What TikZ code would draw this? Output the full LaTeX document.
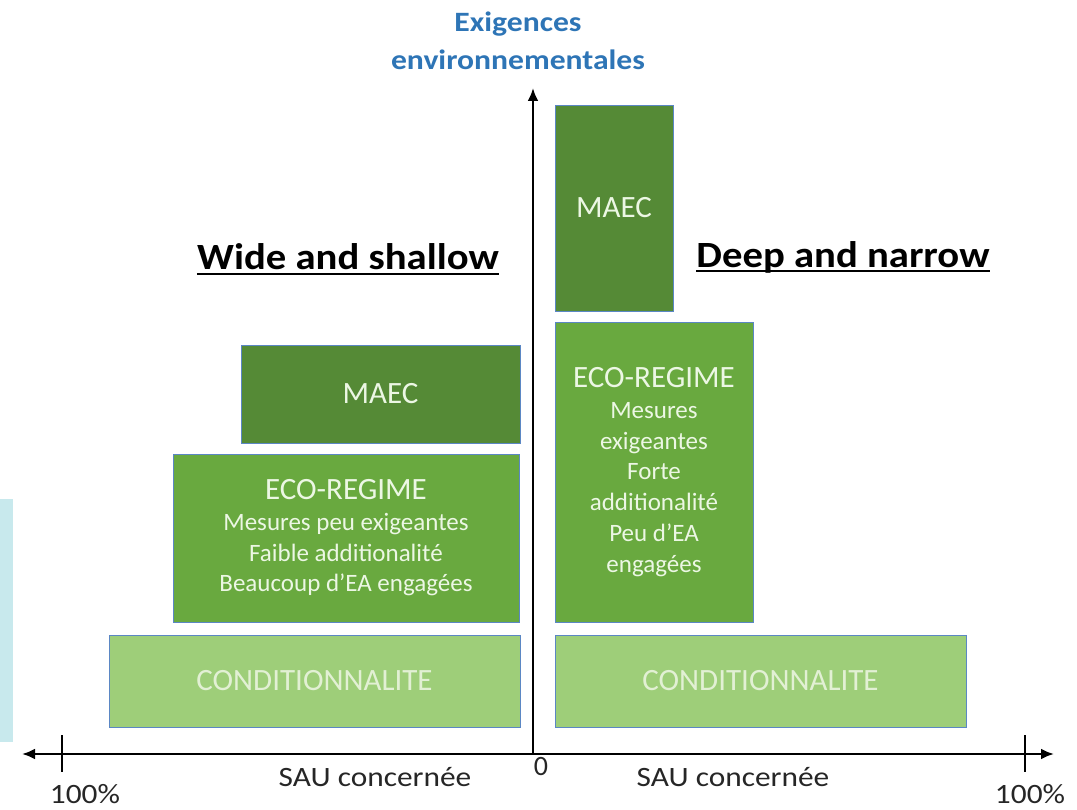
\documentclass[tikz,border=0pt]{standalone}
\usepackage{fontspec}
\setmainfont{Carlito}
\usetikzlibrary{arrows.meta}
\definecolor{maec}{HTML}{558A36}
\definecolor{eco}{HTML}{69A93F}
\definecolor{cond}{HTML}{9ECE79}
\definecolor{boxline}{HTML}{5B87C4}
\definecolor{titleblue}{HTML}{2E75B6}
\definecolor{cyanbg}{HTML}{C8E9ED}
\definecolor{boxtext}{HTML}{ECF7E4}
\definecolor{condtext}{HTML}{E2F0D4}
\newcommand{\wide}[2][1.12]{\scalebox{#1}[1]{#2}}
\begin{document}
\begin{tikzpicture}[x=1pt,y=-1pt,
  box/.style={draw=boxline, line width=0.8pt, inner sep=0pt, align=center, text=boxtext},
  maecbox/.style={box, fill=maec, font=\fontsize{31}{31}\selectfont},
  ecobox/.style={box, fill=eco, font=\fontsize{25}{30.7}\selectfont},
  condbox/.style={box, fill=cond, text=condtext, font=\fontsize{31}{31}\selectfont},
  axis/.style={line width=2.6pt, black},
  tip/.style={-{Latex[length=13pt,width=11pt]}},
  tick/.style={line width=2pt, black},
  axlabel/.style={font=\fontsize{28}{28}\selectfont, text=black!85, inner sep=0pt},
  heading/.style={font=\bfseries\fontsize{37}{37}\selectfont, inner sep=0pt},
  underl/.style={line width=2.2pt, black}
]
\useasboundingbox (0,0) rectangle (1077,810);
\fill[cyanbg] (0,499) rectangle (13,742);

% axis title
\node[font=\bfseries\fontsize{28}{38}\selectfont, text=titleblue, align=center, inner sep=0pt] (ytitle) at (518,41) {\wide[1.13]{Exigences}\\\wide[1.13]{environnementales}};

% left side boxes
\node[maecbox, minimum width=279pt, minimum height=98pt] (lmaec) at (380.5,394) {MAEC};
\node[ecobox, minimum width=346pt, minimum height=168pt] (leco) at (346,538)
  {{\fontsize{31}{31}\selectfont ECO-REGIME}\\Mesures peu exigeantes\\Faible additionalité\\Beaucoup d’EA engagées};
\node[condbox, minimum width=411pt, minimum height=92pt] (lcond) at (314.5,681) {CONDITIONNALITE};

% right side boxes
\node[maecbox, minimum width=118pt, minimum height=206pt] (rmaec) at (614,208) {MAEC};
\node[ecobox, minimum width=198pt, minimum height=300pt] (reco) at (654,472)
  {{\fontsize{31}{31}\selectfont ECO-REGIME}\\Mesures\\exigeantes\\Forte\\additionalité\\Peu d’EA\\engagées};
\node[condbox, minimum width=411pt, minimum height=92pt] (rcond) at (760.5,681) {CONDITIONNALITE};

% headings
\node[heading] (lhead) at (348,257) {\wide[1.1]{Wide and shallow}};
\draw[underl] ([yshift=-4pt]lhead.base west) -- ([yshift=-4pt]lhead.base east);
\node[heading] (rhead) at (843,257) {\wide[1.1]{Deep and narrow}};
\draw[underl] ([yshift=-4pt]rhead.base west) -- ([yshift=-4pt]rhead.base east);

% axes
\coordinate (o) at (533,754);
\coordinate (ytop) at (533,88);
\coordinate (xl) at (22,754);
\coordinate (xr) at (1054,754);
\draw[axis, tip] (o) -- (ytop);
\draw[axis, tip] (o) -- (xl);
\draw[axis, tip] (o) -- (xr);
\coordinate (tl1) at (62,735); \coordinate (tl2) at (62,772);
\coordinate (tr1) at (1025,735); \coordinate (tr2) at (1025,772);
\draw[tick] (tl1) -- (tl2);
\draw[tick] (tr1) -- (tr2);

% axis labels
\node[axlabel] (zero) at (541,767) {0};
\node[axlabel] (lsau) at (375,777) {\wide{SAU concernée}};
\node[axlabel] (rsau) at (733,777) {\wide{SAU concernée}};
\node[axlabel] (l100) at (85,794) {\wide{100\%}};
\node[axlabel] (r100) at (1030,794) {\wide{100\%}};
\end{tikzpicture}
\end{document}
